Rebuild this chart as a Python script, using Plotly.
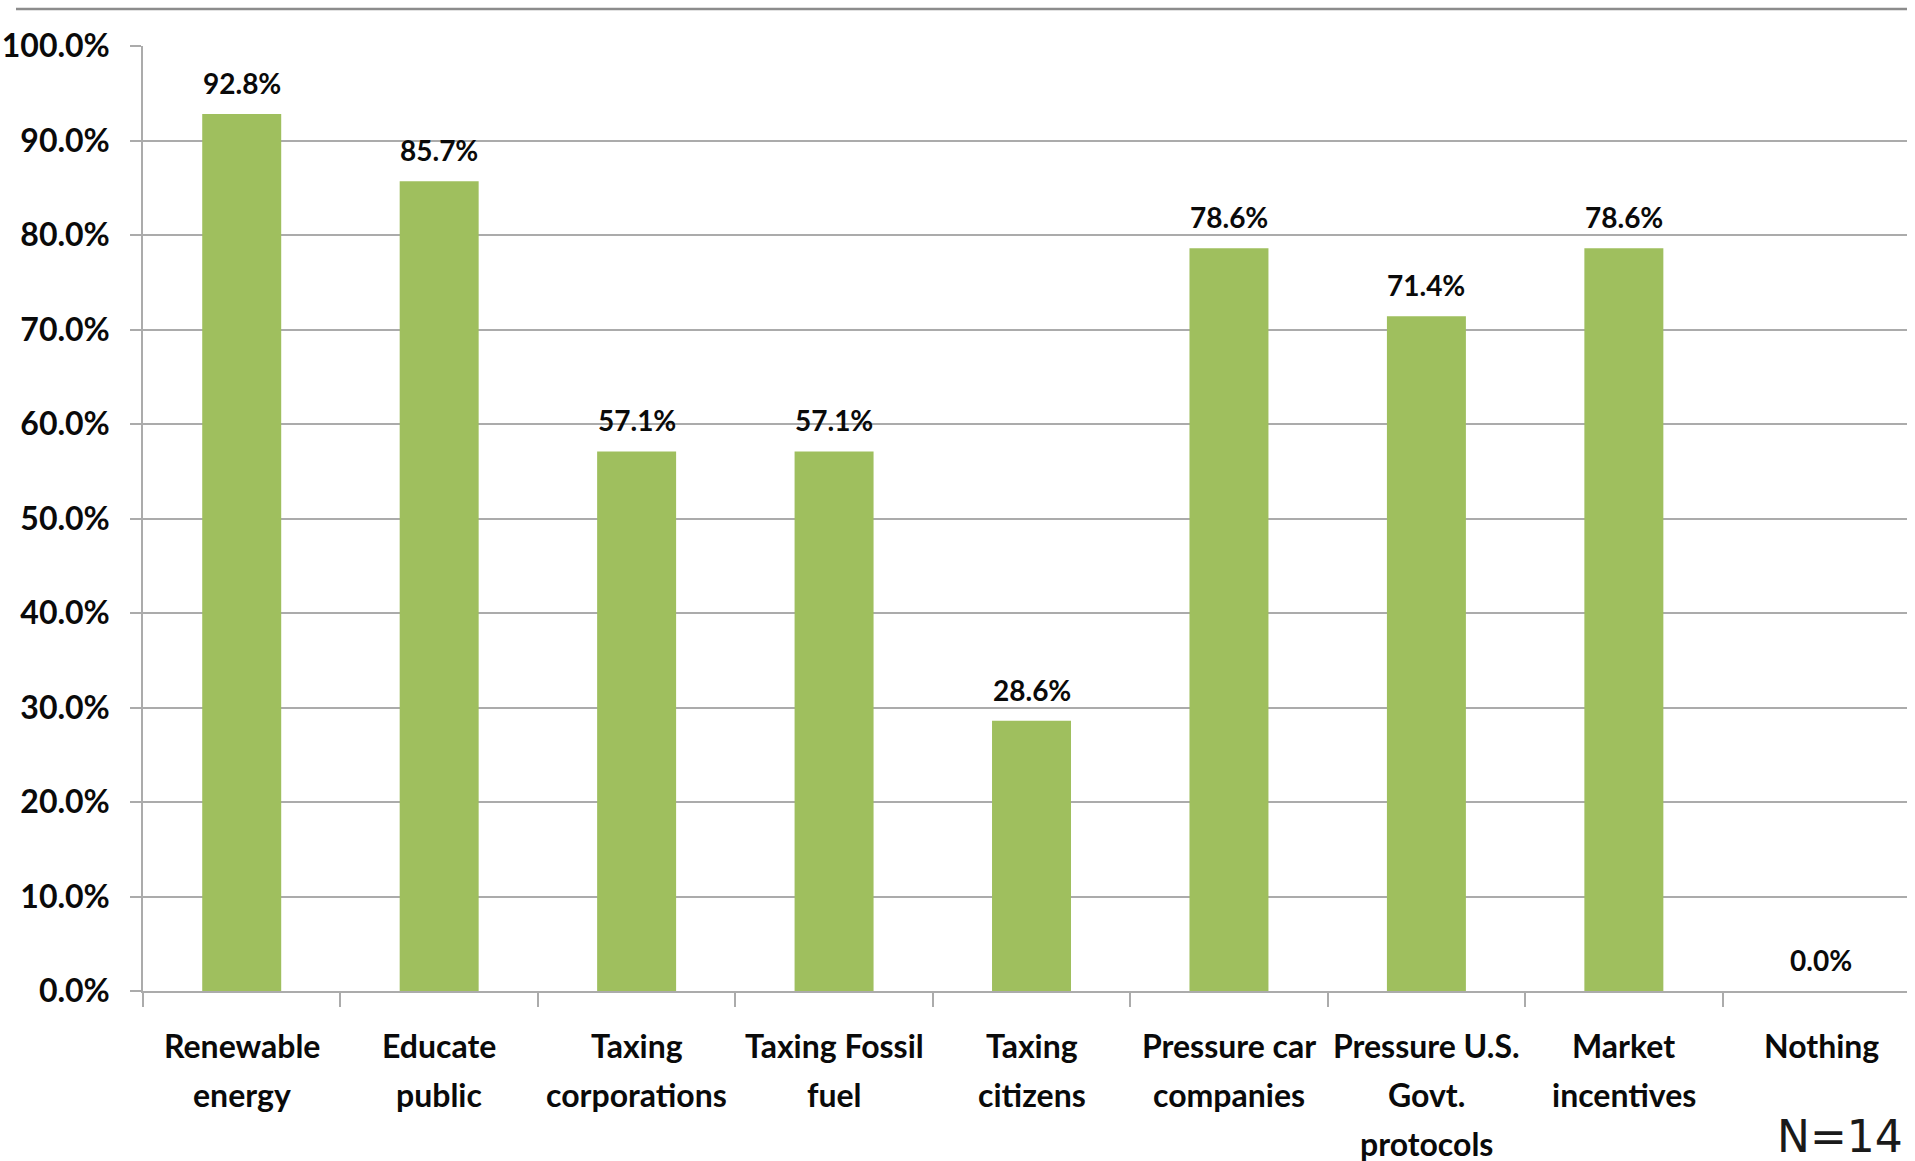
import plotly.graph_objects as go

# Survey responses: share of respondents choosing each measure
categories = [
    "Renewable<br>energy",
    "Educate<br>public",
    "Taxing<br>corporations",
    "Taxing Fossil<br>fuel",
    "Taxing<br>citizens",
    "Pressure car<br>companies",
    "Pressure U.S.<br>Govt.<br>protocols",
    "Market<br>incentives",
    "Nothing",
]
shares = [0.928, 0.857, 0.571, 0.571, 0.286, 0.786, 0.714, 0.786, 0.0]
value_labels = ["92.8%", "85.7%", "57.1%", "57.1%", "28.6%", "78.6%", "71.4%", "78.6%", "0.0%"]
y_ticks = [0.0, 0.1, 0.2, 0.3, 0.4, 0.5, 0.6, 0.7, 0.8, 0.9, 1.0]
y_tick_labels = ["0.0%", "10.0%", "20.0%", "30.0%", "40.0%", "50.0%",
                 "60.0%", "70.0%", "80.0%", "90.0%", "100.0%"]
sample_note = "N=14"

BAR_COLOR = "#9FBF5E"
GRID_COLOR = "#ABABAB"
TEXT_COLOR = "#0A0A0A"
FONT = "Lato"

W, H = 1915, 1161
L, R, T, B = 143, 8, 46, 170
pw, ph = W - L - R, H - T - B


def px_x(x):
    return (x - L) / pw


def px_y(y):
    return (H - B - y) / ph


fig = go.Figure()
fig.add_trace(go.Bar(
    x=categories,
    y=shares,
    marker=dict(color=BAR_COLOR, line=dict(width=0)),
    hoverinfo="skip",
))

# Value labels above each bar
for cat, val, lab in zip(categories, shares, value_labels):
    fig.add_annotation(
        x=cat, y=val, text=lab, showarrow=False,
        xref="x", yref="y", yanchor="bottom", yshift=12,
        font=dict(family=FONT, size=28, color=TEXT_COLOR, weight="bold"),
    )

# Category labels under the axis, one annotation per line for looser leading
LINE_STEP = 49
FIRST_LINE = 54
for cat in categories:
    for i, line in enumerate(cat.split("<br>")):
        fig.add_annotation(
            x=cat, y=0, xref="x", yref="paper", text=line, showarrow=False,
            xanchor="center", yanchor="middle",
            yshift=-(FIRST_LINE + i * LINE_STEP),
            font=dict(family=FONT, size=32, color=TEXT_COLOR, weight="bold"),
        )

# Sample size note in the bottom-right corner
fig.add_annotation(
    x=px_x(1905), y=px_y(1136), xref="paper", yref="paper", text=sample_note,
    showarrow=False, xanchor="right", yanchor="middle",
    font=dict(family="DejaVu Sans", size=44, color="#1A1A1A"),
)

# Rule across the top of the slide
fig.add_shape(
    type="line", xref="paper", yref="paper",
    x0=px_x(16), x1=px_x(1907), y0=px_y(9), y1=px_y(9),
    line=dict(color="#8C8C8C", width=2.5),
)

fig.update_layout(
    width=W, height=H,
    margin=dict(l=L, r=R, t=T, b=B, autoexpand=False),
    paper_bgcolor="white", plot_bgcolor="white",
    showlegend=False, bargap=0.6,
    xaxis=dict(
        type="category",
        range=[-0.5, 8.434],
        tickson="boundaries",
        ticks="outside", ticklen=14, tickwidth=1.5, tickcolor=GRID_COLOR,
        showline=True, linecolor=GRID_COLOR, linewidth=1.5,
        showgrid=False, showticklabels=False,
        fixedrange=True,
    ),
    yaxis=dict(
        range=[0, 1.0],
        tickvals=y_ticks, ticktext=y_tick_labels,
        ticks="outside", ticklen=11, tickwidth=1.5, tickcolor=GRID_COLOR,
        showgrid=True, gridcolor=GRID_COLOR, gridwidth=1.5,
        showline=True, linecolor=GRID_COLOR, linewidth=1.5,
        zeroline=False,
        tickfont=dict(family=FONT, size=32, color=TEXT_COLOR, weight="bold"),
        ticklabelstandoff=14,
        fixedrange=True,
    ),
)

fig.write_html("out.html")
